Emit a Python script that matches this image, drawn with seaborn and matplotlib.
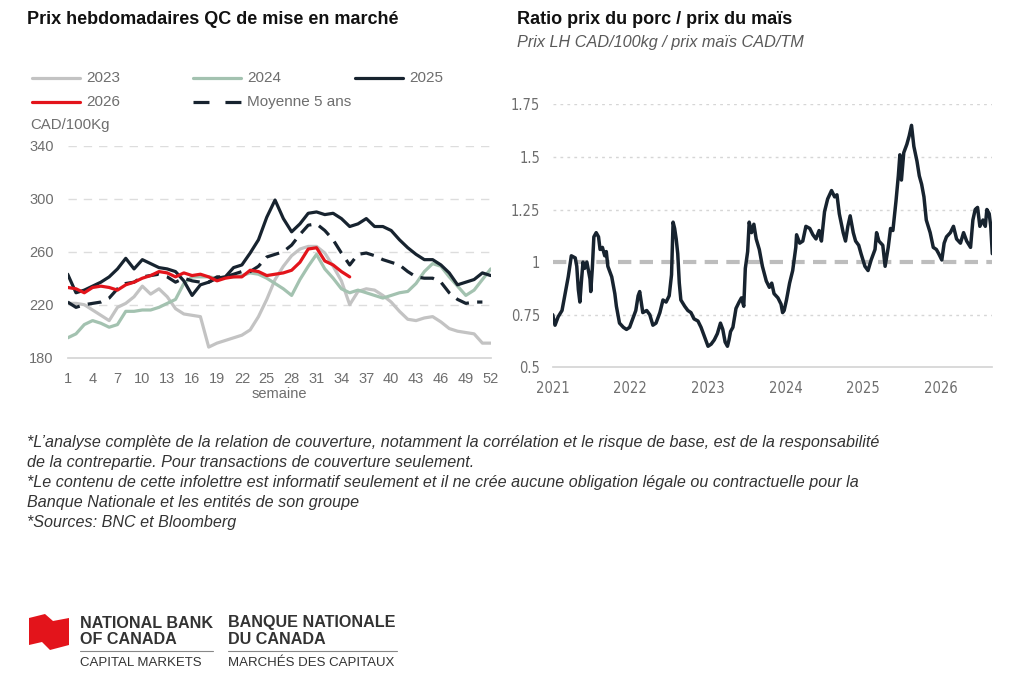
import numpy as np
import pandas as pd
import matplotlib
matplotlib.use("Agg")
import matplotlib.pyplot as plt
from matplotlib.lines import Line2D
from matplotlib.patches import Polygon
import seaborn as sns

# --- left chart: weekly QC prices (CAD/100Kg) ---
weeks = list(range(1, 53))
p2023 = [221, 221, 220, 216, 212, 208, 218, 221, 226, 234, 228, 232, 226, 217, 213, 212,
         211, 188, 191, 193, 195, 197, 201, 211, 224, 239, 249, 257, 262, 264, 264, 259,
         249, 238, 220, 230, 232, 231, 227, 222, 215, 209, 208, 210, 211, 207, 202, 200,
         199, 198, 191, 191]
p2024 = [195, 198, 205, 208, 206, 203, 205, 215, 215, 216, 216, 218, 221, 224, 236, 241,
         241, 241, 240, 241, 241, 242, 244, 243, 240, 236, 232, 227, 239, 249, 258, 247,
         240, 232, 229, 231, 229, 227, 225, 227, 229, 230, 236, 245, 251, 249, 241, 234,
         227, 231, 239, 247]
p2025 = [243, 229, 231, 234, 237, 241, 247, 255, 247, 254, 251, 248, 247, 245, 238, 227,
         235, 237, 240, 241, 248, 250, 259, 269, 286, 299, 285, 275, 281, 289, 290, 288,
         289, 285, 279, 281, 285, 279, 279, 276, 269, 263, 258, 254, 254, 250, 244, 235,
         237, 239, 244, 242]
p2026 = [233, 232, 229, 233, 234, 233, 231, 235, 237, 240, 242, 245, 244, 241, 244, 242,
         243, 241, 238, 240, 241, 241, 246, 245, 242, 243, 244, 246, 252, 262, 263, 253,
         250, 245, 241]
avg5 = [222, 218, 220, 221, 222, 225, 232, 236, 237, 241, 242, 243, 241, 237, 240, 238,
        237, 237, 241, 241, 243, 245, 245, 249, 256, 258, 260, 265, 273, 280, 281, 276,
        269, 259, 250, 258, 259, 257, 254, 252, 250, 245, 241, 240, 240, 237, 229, 224,
        221, 222, 222]
week_ticks = [1, 4, 7, 10, 13, 16, 19, 22, 25, 28, 31, 34, 37, 40, 43, 46, 49, 52]
price_ticks = [180, 220, 260, 300, 340]

# --- right chart: hog / corn price ratio ---
ratio_years = [2021.00, 2021.03, 2021.07, 2021.12, 2021.16, 2021.20, 2021.24, 2021.29,
               2021.31, 2021.33, 2021.35, 2021.37, 2021.39, 2021.41, 2021.44, 2021.46,
               2021.48, 2021.49, 2021.51, 2021.53, 2021.56, 2021.59, 2021.61, 2021.64,
               2021.67, 2021.69, 2021.71, 2021.76, 2021.80, 2021.82, 2021.86, 2021.91,
               2021.95, 2021.99, 2022.03, 2022.07, 2022.10, 2022.12, 2022.14, 2022.16,
               2022.21, 2022.25, 2022.29, 2022.33, 2022.38, 2022.42, 2022.46, 2022.50,
               2022.53, 2022.55, 2022.57, 2022.59, 2022.61, 2022.63, 2022.65, 2022.70,
               2022.74, 2022.78, 2022.82, 2022.87, 2022.91, 2022.95, 2023.00, 2023.04,
               2023.08, 2023.12, 2023.16, 2023.19, 2023.22, 2023.25, 2023.27, 2023.29,
               2023.32, 2023.36, 2023.40, 2023.43, 2023.46, 2023.48, 2023.51, 2023.53,
               2023.56, 2023.59, 2023.62, 2023.66, 2023.70, 2023.75, 2023.79, 2023.82,
               2023.85, 2023.90, 2023.94, 2023.96, 2023.98, 2024.01, 2024.05, 2024.09,
               2024.13, 2024.14, 2024.18, 2024.22, 2024.26, 2024.31, 2024.35, 2024.39,
               2024.43, 2024.46, 2024.50, 2024.54, 2024.59, 2024.63, 2024.66, 2024.69,
               2024.74, 2024.77, 2024.80, 2024.83, 2024.87, 2024.90, 2024.94, 2024.97,
               2025.02, 2025.06, 2025.10, 2025.15, 2025.17, 2025.20, 2025.25, 2025.28,
               2025.32, 2025.35, 2025.38, 2025.42, 2025.45, 2025.47, 2025.49, 2025.52,
               2025.56, 2025.59, 2025.62, 2025.65, 2025.69, 2025.72, 2025.75, 2025.78,
               2025.81, 2025.86, 2025.90, 2025.94, 2025.97, 2026.01, 2026.04, 2026.07,
               2026.12, 2026.16, 2026.20, 2026.25, 2026.29, 2026.33, 2026.38, 2026.41,
               2026.44, 2026.47, 2026.50, 2026.54, 2026.57, 2026.59, 2026.62, 2026.64,
               2026.66]
ratio_vals = [0.75, 0.70, 0.74, 0.77, 0.85, 0.93, 1.03, 1.02, 0.98, 0.87, 0.81, 0.91,
              1.00, 0.97, 1.00, 0.96, 0.92, 0.86, 0.97, 1.12, 1.14, 1.12, 1.06, 1.07,
              1.03, 1.05, 0.98, 0.93, 0.85, 0.79, 0.71, 0.69, 0.68, 0.69, 0.73, 0.77,
              0.84, 0.86, 0.81, 0.76, 0.77, 0.75, 0.70, 0.71, 0.76, 0.82, 0.81, 0.84,
              0.94, 1.19, 1.16, 1.11, 1.04, 0.90, 0.82, 0.79, 0.77, 0.76, 0.73, 0.72,
              0.69, 0.65, 0.60, 0.61, 0.63, 0.66, 0.71, 0.68, 0.62, 0.60, 0.63, 0.67,
              0.69, 0.78, 0.81, 0.83, 0.79, 0.97, 1.05, 1.19, 1.14, 1.18, 1.11, 1.06,
              0.98, 0.91, 0.88, 0.90, 0.85, 0.83, 0.80, 0.76, 0.77, 0.82, 0.90, 0.96,
              1.07, 1.13, 1.09, 1.10, 1.17, 1.16, 1.13, 1.11, 1.15, 1.10, 1.24, 1.30,
              1.34, 1.31, 1.32, 1.23, 1.14, 1.10, 1.17, 1.22, 1.14, 1.10, 1.08, 1.04,
              0.98, 0.96, 1.01, 1.06, 1.14, 1.10, 1.08, 0.98, 1.07, 1.16, 1.15, 1.29,
              1.41, 1.51, 1.39, 1.52, 1.56, 1.60, 1.65, 1.55, 1.48, 1.41, 1.37, 1.31,
              1.20, 1.14, 1.07, 1.06, 1.04, 1.01, 1.09, 1.12, 1.14, 1.17, 1.11, 1.09,
              1.14, 1.10, 1.07, 1.20, 1.25, 1.26, 1.17, 1.20, 1.17, 1.25, 1.23, 1.17,
              1.04]
year_ticks = [2021, 2022, 2023, 2024, 2025, 2026]
ratio_ticks = [0.5, 0.75, 1.0, 1.25, 1.5, 1.75]
ratio_labels = ["0.5", "0.75", "1", "1.25", "1.5", "1.75"]

C2023 = "#c3c3c3"
C2024 = "#a3c2b0"
C2025 = "#17232f"
C2026 = "#e3141b"
TXT = "#6e6e6e"

sns.set_theme(style="white")
plt.rcParams["font.family"] = ["Liberation Sans", "DejaVu Sans"]

W, H = 1024, 687
fig = plt.figure(figsize=(W / 100, H / 100), dpi=100)


def fx(x):
    return x / W


def fy(y):
    return 1 - y / H


# ---------------- left chart ----------------
ax1 = fig.add_axes([fx(67.7), fy(357.7), (490.7 - 67.7) / W, (357.7 - 145.7) / H])
lw = 2.3
sns.lineplot(x=weeks, y=p2023, ax=ax1, color=C2023, lw=lw)
sns.lineplot(x=weeks, y=p2024, ax=ax1, color=C2024, lw=lw)
sns.lineplot(x=weeks[:len(avg5)], y=avg5, ax=ax1, color=C2025, lw=lw,
             dashes=False).lines[-1].set_dashes((4.3, 2.6))
sns.lineplot(x=weeks, y=p2025, ax=ax1, color=C2025, lw=lw)
sns.lineplot(x=weeks[:len(p2026)], y=p2026, ax=ax1, color=C2026, lw=lw)
ax1.set_xlim(1, 52)
ax1.set_ylim(180, 340)
ax1.set_xticks(week_ticks)
ax1.set_yticks(price_ticks)
for v in price_ticks[1:]:
    ax1.axhline(v, color="#dddddd", lw=1, dashes=(6, 5), zorder=0)
ax1.tick_params(axis="y", length=0, pad=10, labelsize=10.5, labelcolor=TXT)
ax1.tick_params(axis="x", length=4, width=0.8, color="#cccccc", pad=6,
                labelsize=10.5, labelcolor=TXT)
for s in ["left", "right", "top"]:
    ax1.spines[s].set_visible(False)
ax1.spines["bottom"].set_color("#d5d5d5")
ax1.set_xlabel("")
ax1.set_ylabel("")
fig.text(fx(279), fy(394), "semaine", ha="center", va="center", fontsize=10.5, color=TXT)

# legend, drawn by hand to match layout
legend_items = [
    (32, 78, C2023, None, "2023"),
    (193, 78, C2024, None, "2024"),
    (355, 78, C2025, None, "2025"),
    (32, 102, C2026, None, "2026"),
    (193, 102, C2025, (5, 5), "Moyenne 5 ans"),
]
for x0, y0, col, dash, label in legend_items:
    ln = Line2D([fx(x0), fx(x0 + 48)], [fy(y0), fy(y0)], color=col, lw=lw,
                transform=fig.transFigure)
    if dash:
        ln.set_dashes(dash)
    fig.add_artist(ln)
    fig.text(fx(x0 + 54), fy(y0), label, ha="left", va="center", fontsize=11, color=TXT)
fig.text(fx(30), fy(125), "CAD/100Kg", ha="left", va="center", fontsize=10.8, color=TXT)

fig.text(fx(27), fy(19), "Prix hebdomadaires QC de mise en marché", ha="left",
         va="center", fontsize=13, fontweight="bold", color="#111111")

# ---------------- right chart ----------------
ax2 = fig.add_axes([fx(552.7), fy(367.3), (992.3 - 552.7) / W, (367.3 - 104.3) / H])
for v in [0.75, 1.25, 1.5, 1.75]:
    ax2.axhline(v, color="#d6d6d6", lw=1, dashes=(2, 3), zorder=0)
ax2.axhline(1.0, color="#bdbdbd", lw=3, dashes=(3.2, 2.0), zorder=1)
sns.lineplot(x=ratio_years, y=ratio_vals, ax=ax2, color=C2025, lw=2.5, zorder=2)
ax2.set_xlim(2021, 2026.66)
ax2.set_ylim(0.5, 1.75)
ax2.set_xticks(year_ticks)
ax2.set_xticklabels([str(y) for y in year_ticks])
ax2.set_yticks(ratio_ticks)
ax2.set_yticklabels(ratio_labels)
for lab in ax2.get_xticklabels() + ax2.get_yticklabels():
    lab.set_family(["DejaVu Sans"])
    lab.set_stretch("condensed")
ax2.tick_params(axis="y", length=0, pad=9, labelsize=10.5, labelcolor=TXT)
ax2.tick_params(axis="x", length=5, width=0.8, color="#cccccc", pad=5,
                labelsize=10.5, labelcolor=TXT)
for s in ["left", "right", "top"]:
    ax2.spines[s].set_visible(False)
ax2.spines["bottom"].set_color("#d5d5d5")
ax2.set_xlabel("")
ax2.set_ylabel("")

fig.text(fx(517), fy(19), "Ratio prix du porc / prix du maïs", ha="left", va="center",
         fontsize=13, fontweight="bold", color="#111111")
fig.text(fx(517), fy(43), "Prix LH CAD/100kg / prix maïs CAD/TM", ha="left", va="center",
         fontsize=11.7, fontstyle="italic", color="#5a5a5a")

# ---------------- footnotes ----------------
notes = [
    (443, "*L\u2019analyse complète de la relation de couverture, notamment la corrélation et le risque de base, est de la responsabilité"),
    (463, "de la contrepartie. Pour transactions de couverture seulement."),
    (483, "*Le contenu de cette infolettre est informatif seulement et il ne crée aucune obligation légale ou contractuelle pour la"),
    (502, "Banque Nationale et les entités de son groupe"),
    (522, "*Sources: BNC et Bloomberg"),
]
for y0, t in notes:
    fig.text(fx(27), fy(y0), t, ha="left", va="center", fontsize=11.6,
             fontstyle="italic", color="#333333")

# ---------------- logo ----------------
flag = [(29, 618), (45, 614), (53, 621), (69, 618), (69, 645), (50, 650), (42, 642), (29, 645)]
fig.add_artist(Polygon([(fx(a), fy(b)) for a, b in flag], closed=True,
                       transform=fig.transFigure, color="#e3141b", lw=0))
logo_col = "#333333"
for x0, l1, l2, l3, x1 in [(80, "NATIONAL BANK", "OF CANADA", "CAPITAL MARKETS", 213),
                           (228, "BANQUE NATIONALE", "DU CANADA", "MARCHÉS DES CAPITAUX", 397)]:
    fig.text(fx(x0), fy(623), l1, ha="left", va="center", fontsize=11.6,
             fontweight="bold", color=logo_col)
    fig.text(fx(x0), fy(639), l2, ha="left", va="center", fontsize=11.6,
             fontweight="bold", color=logo_col)
    fig.add_artist(Line2D([fx(x0), fx(x1)], [fy(651), fy(651)], color="#888888", lw=0.8,
                          transform=fig.transFigure))
    fig.text(fx(x0), fy(663), l3, ha="left", va="center", fontsize=9.5, color=logo_col)

fig.savefig("out.png", dpi=100)
